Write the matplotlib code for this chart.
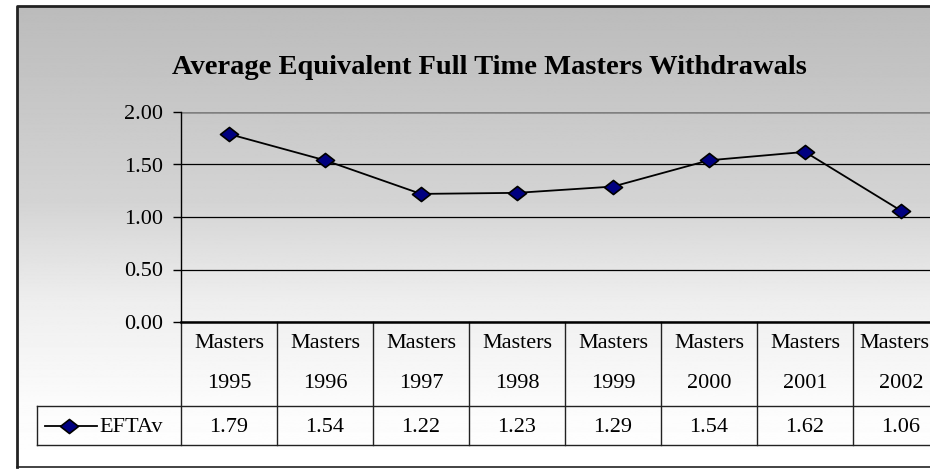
import numpy as np
import matplotlib
matplotlib.use('Agg')
import matplotlib.pyplot as plt
import matplotlib.transforms as mtransforms
from matplotlib.path import Path

plt.rcParams['font.family'] = ['Liberation Serif', 'DejaVu Serif']

# data
years = ['1995', '1996', '1997', '1998', '1999', '2000', '2001', '2002']
category = 'Masters'
eftav = [1.79, 1.54, 1.22, 1.23, 1.29, 1.54, 1.62, 1.06]
series_name = 'EFTAv'
title = 'Average Equivalent Full Time Masters Withdrawals'

W, H = 930, 469
fig = plt.figure(figsize=(W / 100, H / 100), dpi=100)

def fx(px):
    return px / W

def fy(py):
    return 1 - py / H

# background gradient for the chart area
bg = fig.add_axes([0, 0, 1, 1])
bg.axis('off')
rows = np.arange(H)
shade = np.interp(rows, [6, 200, 300, 400, 467], [188, 212, 238, 251, 255]) / 255
grad = np.repeat(shade[:, None], 2, axis=1)
bg.imshow(grad, cmap='gray', vmin=0, vmax=1, aspect='auto',
          extent=[17, W + 40, 467, 6], zorder=0)
bg.plot([17, 17, W + 5], [467, 6, 6], color='#222222', lw=2, clip_on=False)
bg.plot([17, W + 5], [467, 467], color='#222222', lw=1.2, clip_on=False)
bg.set_xlim(0, W)
bg.set_ylim(H, 0)

bg.text(489, 68, title, ha='center', va='center', fontsize=20.5,
        fontweight='bold')

# plot area
left, right, top, bottom = 181, 949, 112, 322
ax = fig.add_axes([fx(left), fy(bottom), fx(right - left), (bottom - top) / H])
ax.patch.set_alpha(0)
x = np.arange(len(years))
diamond = Path([(-1, 0), (0, 0.78), (1, 0), (0, -0.78), (-1, 0)],
               [Path.MOVETO, Path.LINETO, Path.LINETO, Path.LINETO, Path.CLOSEPOLY])
ax.plot(x, eftav, color='black', lw=1.3, marker=diamond, markersize=13,
        markerfacecolor='#000080', markeredgecolor='black', markeredgewidth=1.2,
        zorder=3, clip_on=False)
ax.set_xlim(-0.5, len(years) - 0.5)
ax.set_ylim(0, 2)
ticks = [0, 0.5, 1.0, 1.5, 2.0]
ax.set_yticks(ticks)
ax.set_yticklabels([f'{v:.2f}' for v in ticks], fontsize=16)
ax.set_xticks([])
ax.tick_params(axis='y', length=6, width=1, pad=7)
ax.grid(axis='y', color='black', lw=0.9)
ax.get_ygridlines()[-1].set_color('#808080')
ax.get_ygridlines()[-1].set_linewidth(1.8)
for s in ['top', 'right']:
    ax.spines[s].set_visible(False)
ax.spines['left'].set_linewidth(1)
ax.spines['bottom'].set_linewidth(1.8)
ax.set_axisbelow(True)

# data table below the plot
ph = bottom - top
pw = right - left
def ay(py):
    return (bottom - py) / ph
def axx(px):
    return (px - left) / pw

tr = mtransforms.blended_transform_factory(ax.transData, ax.transAxes)
row1, row2 = 406, 445
for i in range(len(years) + 1):
    ax.plot([i - 0.5, i - 0.5], [0, ay(row2)], color='#222222', lw=1,
            transform=tr, clip_on=False)
for py in [row1, row2]:
    ax.plot([axx(37), 1.05], [ay(py), ay(py)], color='#222222', lw=1,
            transform=ax.transAxes, clip_on=False)
ax.plot([axx(37), axx(37)], [ay(row1), ay(row2)], color='#222222', lw=1,
        transform=ax.transAxes, clip_on=False)

for i, yr in enumerate(years):
    if i == len(years) - 1:
        # last column runs past the picture edge: keep its label inside
        ax.text(axx(929), ay(343), category, ha='right', va='center',
                fontsize=16, transform=ax.transAxes, clip_on=False)
    else:
        ax.text(i, ay(343), category, ha='center', va='center', fontsize=16,
                transform=tr, clip_on=False)
    ax.text(i, ay(383), yr, ha='center', va='center', fontsize=16,
            transform=tr, clip_on=False)
    ax.text(i, ay(427), f'{eftav[i]:.2f}', ha='center', va='center', fontsize=16,
            transform=tr, clip_on=False)

# legend key in the table
ax.plot([axx(45), axx(97)], [ay(426), ay(426)], color='black', lw=1.3,
        transform=ax.transAxes, clip_on=False)
ax.plot([axx(69)], [ay(426)], marker=diamond, markersize=13,
        markerfacecolor='#000080', markeredgecolor='black', markeredgewidth=1.2,
        transform=ax.transAxes, clip_on=False)
ax.text(axx(99), ay(427), series_name, ha='left', va='center', fontsize=16,
        transform=ax.transAxes, clip_on=False)

fig.savefig('out.png', dpi=100)
